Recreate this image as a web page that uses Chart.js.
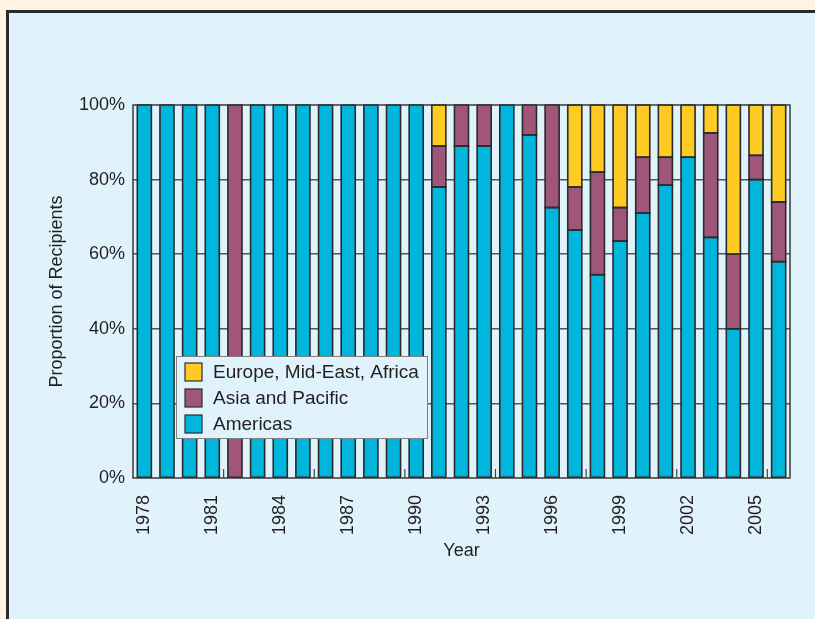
<!DOCTYPE html>
<html>
<head>
<meta charset="utf-8">
<script src="https://cdn.jsdelivr.net/npm/chart.js@4"></script>
<style>
  body { margin: 0; background: #fff3e4; width: 815px; height: 619px; overflow: hidden; position: relative; }
  .panel { position: absolute; left: 6px; top: 10px; width: 840px; height: 660px; background: #e0f3fc; border: 3px solid #2a2a2a; }
  #chart { position: absolute; left: 0; top: 0; }
</style>
</head>
<body>
<div class="panel"></div>
<canvas id="chart" width="815" height="619"></canvas>
<script>
// years shown along the x axis
const years = [];
for (let y = 1978; y <= 2006; y++) years.push(String(y));

// share of recipients per region, percent
const americas = [100, 100, 100, 100, 0, 100, 100, 100, 100, 100, 100, 100, 100,
  78, 89, 89, 100, 92, 72.5, 66.5, 54.5, 63.5, 71, 78.5, 86, 64.5, 40, 80, 58];
const asiaPacific = [0, 0, 0, 0, 100, 0, 0, 0, 0, 0, 0, 0, 0,
  11, 11, 11, 0, 8, 27.5, 11.5, 27.5, 9, 15, 7.5, 0, 28, 20, 6.5, 16];
const europeMeAfrica = [0, 0, 0, 0, 0, 0, 0, 0, 0, 0, 0, 0, 0,
  11, 0, 0, 0, 0, 0, 22, 18, 27.5, 14, 14, 14, 7.5, 40, 13.5, 26];

const yTicks = [0, 20, 40, 60, 80, 100];

const textColor = '#231f20';
const font = 'Liberation Sans, Arial, Helvetica, sans-serif';

// bar outlines, frame around the plot area, small inward ticks every 4 years, legend inside
const framePlugin = {
  id: 'frame',
  afterDatasetsDraw(chart) {
    const {ctx, chartArea: a} = chart;
    const xs = chart.scales.x;
    ctx.save();
    ctx.strokeStyle = '#2a2a2a';
    ctx.lineWidth = 1.6;
    chart.data.datasets.forEach((ds, di) => {
      chart.getDatasetMeta(di).data.forEach((el, i) => {
        if (ds.data[i] == null) return;
        const p = el.getProps(['x', 'y', 'base', 'width'], true);
        ctx.strokeRect(p.x - p.width / 2, p.y, p.width, p.base - p.y);
      });
    });
    ctx.strokeStyle = '#3a3a3a';
    ctx.lineWidth = 1.5;
    ctx.strokeRect(a.left, a.top, a.right - a.left, a.bottom - a.top);
    ctx.lineWidth = 1.2;
    ctx.strokeStyle = '#444';
    for (let i = 4; i < years.length; i += 4) {
      const px = (xs.getPixelForTick(i - 1) + xs.getPixelForTick(i)) / 2;
      ctx.beginPath();
      ctx.moveTo(px, a.bottom);
      ctx.lineTo(px, a.bottom - 9);
      ctx.stroke();
    }
    ctx.restore();
  },
  afterDraw(chart) {
    const {ctx, chartArea: a} = chart;
    const x = a.left + 43, y = a.top + 251, w = 251, h = 82;
    ctx.save();
    ctx.fillStyle = '#e0f3fc';
    ctx.fillRect(x, y, w, h);
    ctx.strokeStyle = '#808080';
    ctx.lineWidth = 1;
    ctx.strokeRect(x + 0.5, y + 0.5, w, h);
    const items = chart.data.datasets.slice().reverse();
    ctx.font = '19px ' + font;
    ctx.textBaseline = 'middle';
    items.forEach((ds, i) => {
      const ry = y + 7 + i * 26;
      ctx.fillStyle = ds.backgroundColor;
      ctx.fillRect(x + 9, ry, 17, 18);
      ctx.strokeStyle = '#2d2d2d';
      ctx.lineWidth = 1.2;
      ctx.strokeRect(x + 9, ry, 17, 18);
      ctx.fillStyle = textColor;
      ctx.fillText(ds.label, x + 37, ry + 10);
    });
    ctx.restore();
  }
};

// empty segments are left out so they draw no outline
const seg = arr => arr.map(v => (v === 0 ? null : v));

new Chart(document.getElementById('chart'), {
  type: 'bar',
  data: {
    labels: years,
    datasets: [
      { label: 'Americas', data: seg(americas), backgroundColor: '#00b6dd' },
      { label: 'Asia and Pacific', data: seg(asiaPacific), backgroundColor: '#a0557a' },
      { label: 'Europe, Mid-East, Africa', data: seg(europeMeAfrica), backgroundColor: '#fdcb24' }
    ].map(d => Object.assign(d, {
      borderWidth: 0,
      barPercentage: 0.62,
      categoryPercentage: 1
    }))
  },
  options: {
    responsive: false,
    animation: false,
    layout: { padding: { left: 42, top: 105, right: 25, bottom: 53 } },
    plugins: { legend: { display: false }, tooltip: { enabled: false } },
    scales: {
      x: {
        stacked: true,
        afterFit(scale) { scale.height = 88; },
        grid: { display: false },
        border: { display: false },
        ticks: {
          autoSkip: false,
          minRotation: 90,
          maxRotation: 90,
          padding: 9,
          color: textColor,
          font: { family: font, size: 18 },
          callback(v, i) { return i % 3 === 0 ? years[i] : ''; }
        },
        title: {
          display: true,
          text: 'Year',
          color: textColor,
          font: { family: font, size: 18 },
          padding: { top: 4, bottom: 4 }
        }
      },
      y: {
        stacked: true,
        min: 0,
        max: 100,
        afterFit(scale) { scale.width = 91; },
        afterBuildTicks(scale) { scale.ticks = yTicks.map(v => ({ value: v })); },
        grid: {
          drawTicks: false,
          lineWidth: 1.5,
          color: c => (c.tick.value === 0 || c.tick.value === 100) ? 'rgba(0,0,0,0)' : '#555'
        },
        border: { display: false },
        ticks: {
          padding: 8,
          color: textColor,
          font: { family: font, size: 18 },
          callback: v => v + '%'
        },
        title: {
          display: true,
          text: 'Proportion of Recipients',
          color: textColor,
          font: { family: font, size: 18 },
          padding: { top: 4, bottom: 4 }
        }
      }
    }
  },
  plugins: [framePlugin]
});
</script>
</body>
</html>
